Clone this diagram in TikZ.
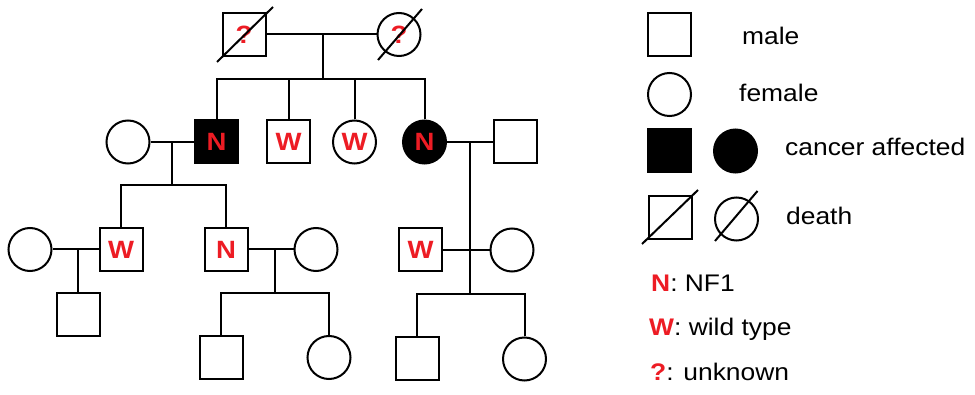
\documentclass[tikz,border=0pt]{standalone}
\usepackage{fontspec}
\setmainfont{Liberation Sans}
\newfontfamily\widesans[FakeStretch=1.1]{Liberation Sans}
\usetikzlibrary{calc}
\definecolor{gene}{RGB}{237,28,36}
\tikzset{
  person/.style={draw=black, line width=2pt, fill=white, inner sep=0pt,
    minimum size=43pt, text=gene,
    font=\widesans\fontsize{25}{30}\selectfont\bfseries},
  male/.style={person, rectangle},
  female/.style={person, circle},
  affected/.style={fill=black},
  kin/.style={draw=black, line width=2pt},
  slash/.style={draw=black, line width=2pt},
  legendtext/.style={anchor=base west, inner sep=0pt, text=black,
    font=\widesans\fontsize{24}{29}\selectfont}
}
\newcommand{\gl}[1]{{\bfseries\color{gene}#1}}
\begin{document}
\begin{tikzpicture}[x=1pt,y=-1pt]
  \fill[white] (0,0) rectangle (975,395);
  \useasboundingbox (0,0) rectangle (975,395);

  % ---- first generation ----
  \node[male]   (g1m) at (244,34.5) {?};
  \node[female] (g1f) at (399,34.5) {?};
  \draw[slash] ([shift={(-27,27.5)}]g1m.center) -- ([shift={(29,-27.5)}]g1m.center);
  \draw[slash] ([shift={(-21,25.5)}]g1f.center) -- ([shift={(23,-25.5)}]g1f.center);
  \coordinate (j1) at (323,34.5);
  \coordinate (s1) at (323,79);
  \draw[kin] (g1m) -- (g1f);
  \draw[kin] (j1) -- (s1);

  % ---- second generation ----
  \node[female]          (g2w) at (128,142) {};
  \node[male, affected]  (g2a) at (216.5,142) {N};
  \node[male]            (g2b) at (288.5,142) {W};
  \node[female]          (g2c) at (354.5,142) {W};
  \node[female,affected] (g2d) at (424.5,142) {N};
  \node[male]            (g2h) at (515,142) {};
  \draw[kin] (g2a.north) -- (g2a.north |- s1) -- (g2d.north |- s1) -- (g2d.north);
  \draw[kin] (g2b.north |- s1) -- (g2b.north);
  \draw[kin] (g2c.north |- s1) -- (g2c.north);

  \draw[kin] (g2w) -- (g2a);
  \coordinate (j2) at (172,142);
  \coordinate (s2) at (172,185);
  \draw[kin] (j2) -- (s2);

  \draw[kin] (g2d) -- (g2h);
  \coordinate (j3) at (470,142);
  \coordinate (s3) at (470,294);
  \draw[kin] (j3) -- (s3);

  % ---- third generation, left branch ----
  \node[female] (g3w1) at (30,249.5) {};
  \node[male]   (g3a)  at (121,249.5) {W};
  \node[male]   (g3b)  at (226,249.5) {N};
  \node[female] (g3w2) at (316,249.5) {};
  \draw[kin] (g3a.north) -- (g3a.north |- s2) -- (g3b.north |- s2) -- (g3b.north);

  \node[male] (g4a) at (78,314.5) {};
  \draw[kin] (g3w1) -- (g3a);
  \draw[kin] (g4a.north |- g3a) -- (g4a.north);

  \coordinate (j4) at (275,249.5);
  \coordinate (s4) at (275,293);
  \draw[kin] (g3b) -- (g3w2);
  \draw[kin] (j4) -- (s4);
  \node[male]   (g4b) at (221,357.5) {};
  \node[female] (g4c) at (329,357.5) {};
  \draw[kin] (g4b.north) -- (g4b.north |- s4) -- (g4c.north |- s4) -- (g4c.north);

  % ---- third generation, right branch ----
  \node[male]   (g3c)  at (420.5,250) {W};
  \node[female] (g3w3) at (512,250) {};
  \draw[kin] (g3c) -- (g3w3);
  \node[male]   (g4d) at (417,359) {};
  \node[female] (g4e) at (524.5,359) {};
  \draw[kin] (g4d.north) -- (g4d.north |- s3) -- (g4e.north |- s3) -- (g4e.north);

  % ---- legend ----
  \node[male]            (lm)  at (669.5,34.5) {};
  \node[female]          (lf)  at (669.5,94.5) {};
  \node[male, affected]  (lam) at (669.5,151) {};
  \node[female,affected] (laf) at (735.5,151) {};
  \node[male]            (ldm) at (670,218) {};
  \node[female]          (ldf) at (736.5,219) {};
  \draw[slash] ([shift={(-28,26)}]ldm.center) -- ([shift={(28,-28)}]ldm.center);
  \draw[slash] ([shift={(-21.5,22)}]ldf.center) -- ([shift={(21,-28)}]ldf.center);

  \node[legendtext] (tm) at (742,45)  {male};
  \node[legendtext] (tf) at (739,102) {female};
  \node[legendtext] (ta) at (785,156) {cancer affected};
  \node[legendtext] (td) at (786,225) {death};
  \node[legendtext] (tn) at (651,292) {\gl{N}: NF1};
  \node[legendtext] (tw) at (649,336) {\gl{W}: wild type};
  \node[legendtext] (tq) at (650,381) {\gl{?}: unknown};
\end{tikzpicture}
\end{document}
